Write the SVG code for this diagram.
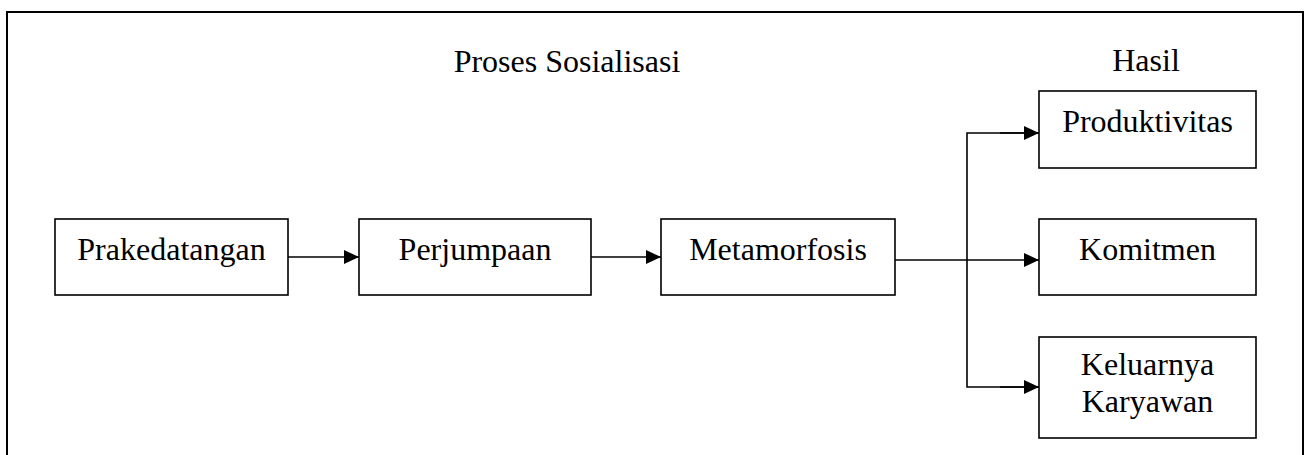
<svg xmlns="http://www.w3.org/2000/svg" width="1310" height="455" viewBox="0 0 1310 455">
<style>
.box{fill:#fff;stroke:#000;stroke-width:1.6}
.t{font-family:"Liberation Serif","Times New Roman",serif;font-size:32px;fill:#000;text-anchor:middle}
.ln{fill:none;stroke:#000;stroke-width:1.6}
</style>
<defs>
<marker id="ah" markerWidth="15" markerHeight="14" refX="15" refY="7" orient="auto" markerUnits="userSpaceOnUse">
<path d="M0,0 L15,7 L0,14 Z" fill="#000"/>
</marker>
</defs>
<rect width="1310" height="455" fill="#fff"/>
<rect x="7" y="12" width="1296" height="460" fill="none" stroke="#000" stroke-width="2"/>
<text class="t" x="567" y="72">Proses Sosialisasi</text>
<text class="t" x="1146" y="71">Hasil</text>
<g id="connectors">
<line class="ln" x1="288" y1="257" x2="359" y2="257" marker-end="url(#ah)"/>
<line class="ln" x1="591" y1="257" x2="661" y2="257" marker-end="url(#ah)"/>
<line class="ln" x1="895" y1="260" x2="1039" y2="260" marker-end="url(#ah)"/>
<polyline class="ln" points="1039,133 967,133 967,387 1039,387"/>
<line class="ln" x1="1000" y1="133" x2="1039" y2="133" marker-end="url(#ah)"/>
<line class="ln" x1="1000" y1="387" x2="1039" y2="387" marker-end="url(#ah)"/>
</g>
<g id="prakedatangan">
<rect class="box" x="55" y="219" width="233" height="76"/>
<text class="t" x="171.5" y="260">Prakedatangan</text>
</g>
<g id="perjumpaan">
<rect class="box" x="359" y="219" width="232" height="76"/>
<text class="t" x="475" y="260">Perjumpaan</text>
</g>
<g id="metamorfosis">
<rect class="box" x="661" y="219" width="234" height="76"/>
<text class="t" x="778" y="260">Metamorfosis</text>
</g>
<g id="produktivitas">
<rect class="box" x="1039" y="91" width="217" height="77"/>
<text class="t" x="1147.5" y="132">Produktivitas</text>
</g>
<g id="komitmen">
<rect class="box" x="1039" y="219" width="217" height="76"/>
<text class="t" x="1147.5" y="260">Komitmen</text>
</g>
<g id="keluarnya">
<rect class="box" x="1039" y="337" width="217" height="101"/>
<text class="t" x="1147.5" y="375">Keluarnya</text>
<text class="t" x="1147.5" y="412">Karyawan</text>
</g>
</svg>
